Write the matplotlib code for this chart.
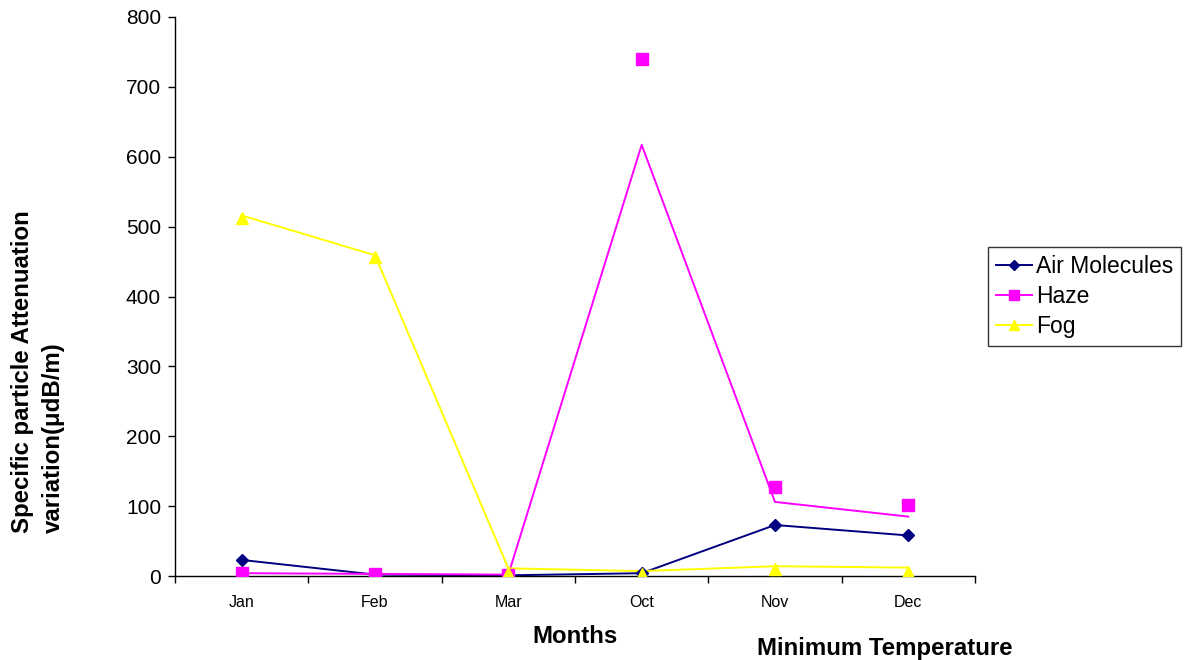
import matplotlib
matplotlib.use("Agg")
import matplotlib.pyplot as plt
from matplotlib.lines import Line2D

plt.rcParams['font.family'] = ['Liberation Sans', 'DejaVu Sans']

months = ["Jan", "Feb", "Mar", "Oct", "Nov", "Dec"]
series_names = ["Air Molecules", "Haze", "Fog"]

# line vertices as drawn
air_line = [23, 2, 1, 4, 73, 58]
haze_line = [4, 3, 2, 617, 106, 85]
fog_line = [516, 459, 11, 7, 14, 12]

# marker positions as drawn
air_marks = [23, 2, 1, 4, 73, 58]
haze_marks = [5, 3, 2, 740, 127, 102]
fog_marks = [513, 456, 4, 3, 10, 6]

colors = ["#000080", "#FF00FF", "#FFFF00"]
markers = ["D", "s", "^"]
msizes = [6, 8, 8]

W, H = 1188, 660
fig = plt.figure(figsize=(W / 100, H / 100), dpi=100)
ax = fig.add_axes([175 / W, 1 - 576 / H, 800 / W, 559 / H])

x = list(range(len(months)))
lines = [air_line, haze_line, fog_line]
marks = [air_marks, haze_marks, fog_marks]
handles = []
for name, ln, mk, c, m, ms in zip(series_names, lines, marks, colors, markers, msizes):
    ax.plot(x, ln, color=c, lw=1.4, zorder=2)
    ax.plot(x, mk, color=c, ls="none", marker=m, ms=ms, zorder=3)
    handles.append(Line2D([], [], color=c, lw=1.4, marker=m, ms=ms - 1))

ax.set_xlim(-0.5, len(months) - 0.5)
ax.set_ylim(0, 800)
ax.set_yticks(range(0, 801, 100))
ax.tick_params(axis="y", labelsize=15, direction="out", length=5, width=1, pad=5)
ax.set_xticks([i - 0.5 for i in range(len(months) + 1)])
ax.set_xticklabels([])
ax.set_xticks(x, minor=True)
ax.set_xticklabels(months, minor=True, fontsize=11.5)
ax.tick_params(axis="x", which="major", direction="out", length=5, width=1)
ax.tick_params(axis="x", which="minor", length=0, pad=14)
for s in ["top", "right"]:
    ax.spines[s].set_visible(False)
for s in ["left", "bottom"]:
    ax.spines[s].set_linewidth(1)

fig.text(23 / W, 1 - 533 / H, "Specific particle Attenuation", rotation=90,
         ha="center", va="bottom", fontsize=17.3, fontweight="bold")
fig.text(53 / W, 1 - 533 / H, "variation(μdB/m)", rotation=90,
         ha="center", va="bottom", fontsize=17.3, fontweight="bold")
fig.text(575 / W, 1 - 643 / H, "Months", ha="center", va="baseline",
         fontsize=17.3, fontweight="bold")
fig.text(885 / W, 1 - 648 / H, "Minimum Temperature", ha="center", va="center",
         fontsize=17.3, fontweight="bold")

leg = fig.legend(handles, series_names, loc="upper left",
                 bbox_to_anchor=(988 / W, 1 - 247 / H), fontsize=16.5,
                 frameon=True, fancybox=False, edgecolor="black",
                 handlelength=1.55, handletextpad=0.2, borderpad=0.35,
                 labelspacing=0.3, borderaxespad=0)
leg.get_frame().set_linewidth(1)

fig.savefig("out.png", dpi=100)
